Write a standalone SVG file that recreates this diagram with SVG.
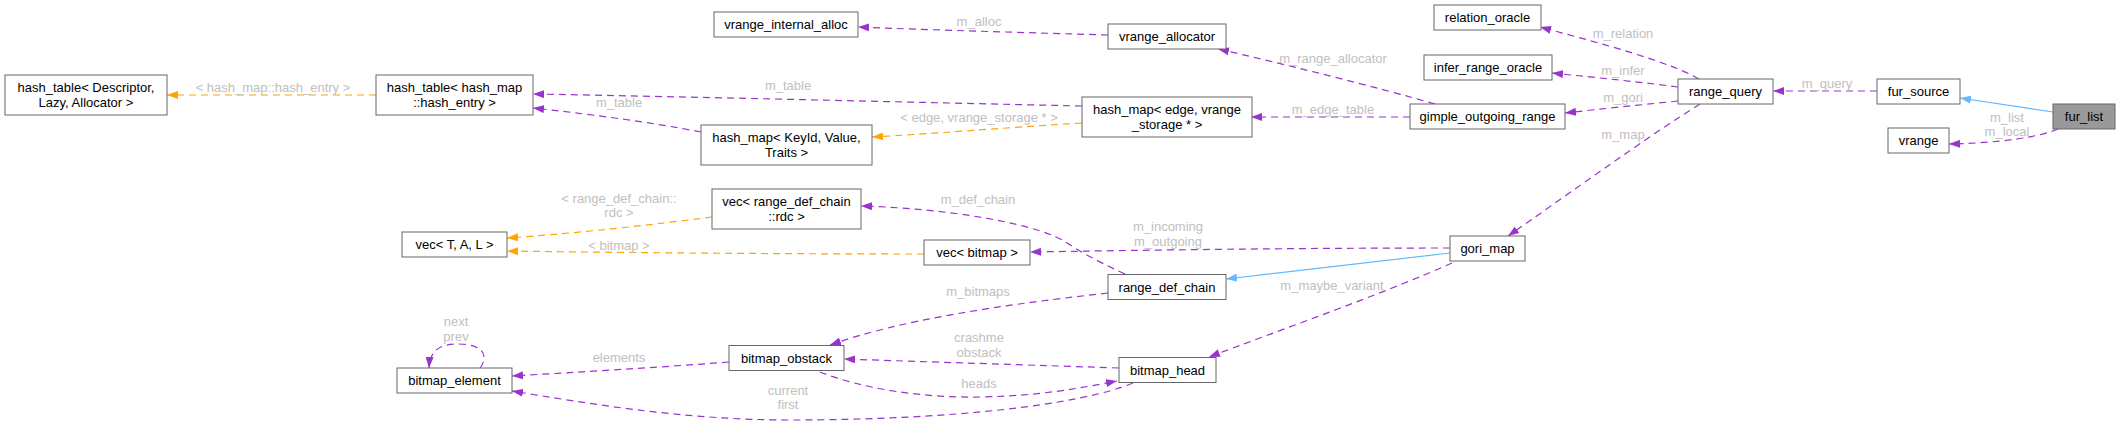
<svg xmlns="http://www.w3.org/2000/svg" width="2120" height="426" viewBox="0 0 2120 426">
<style>
.node rect{fill:#ffffff;stroke:#666666;stroke-width:1}
.node text{font-family:"Liberation Sans",Arial,sans-serif;font-size:13px;fill:#000000;text-anchor:middle}
.e{fill:none;stroke-width:1.2;stroke-dasharray:7,5}
.p{stroke:#9a32cd;marker-end:url(#ap)}
.o{stroke:#ffa500;marker-end:url(#ao)}
.b{fill:none;stroke:#63b8ff;stroke-width:1.2;marker-end:url(#ab)}
.lbl{font-family:"Liberation Sans",Arial,sans-serif;font-size:13px;fill:#c0c0c0;text-anchor:middle}
</style>
<defs>
<marker id="ap" markerUnits="userSpaceOnUse" markerWidth="11" markerHeight="8" refX="11" refY="4" orient="auto"><path d="M0,0 L11,4 L0,8 z" fill="#9a32cd"/></marker>
<marker id="ao" markerUnits="userSpaceOnUse" markerWidth="11" markerHeight="8" refX="11" refY="4" orient="auto"><path d="M0,0 L11,4 L0,8 z" fill="#ffa500"/></marker>
<marker id="ab" markerUnits="userSpaceOnUse" markerWidth="11" markerHeight="8" refX="11" refY="4" orient="auto"><path d="M0,0 L11,4 L0,8 z" fill="#63b8ff"/></marker>
</defs>
<rect width="2120" height="426" fill="#ffffff"/>
<g id="connectors">
<path class="b" d="M2053,112 L1960,98"/>
<path class="e p" d="M2058,129 C2040,137 2000,143 1949,144"/>
<path class="e p" d="M1877,91 L1773,91"/>
<path class="e p" d="M1699,79 C1670,62 1600,43 1540,27"/>
<path class="e p" d="M1678,87 C1640,82 1600,78 1552,73"/>
<path class="e p" d="M1678,101 C1640,105 1600,109 1565,113"/>
<path class="e p" d="M1700,104 C1650,135 1560,200 1508,236"/>
<path class="e p" d="M1435,104 C1380,88 1280,63 1218,49"/>
<path class="e p" d="M1410,117 L1251,117"/>
<path class="e p" d="M1108,35 C1040,33 930,30 858,27"/>
<path class="e p" d="M1082,106 C900,102 700,97 533,94"/>
<path class="e o" d="M1082,123 C1000,128 930,134 872,137"/>
<path class="e p" d="M701,132 C650,122 580,113 533,108"/>
<path class="e o" d="M376,95 L167,95"/>
<path class="e p" d="M1450,248 C1300,248 1150,250 1030,252"/>
<path class="b" d="M1450,253 L1226,279"/>
<path class="e p" d="M1452,263 C1380,295 1280,330 1209,357"/>
<path class="e p" d="M1125,274 C1090,258 1075,248 1062,240 C1030,222 940,208 861,206"/>
<path class="e p" d="M1108,293 C1000,305 900,320 830,345"/>
<path class="e o" d="M712,217 C650,225 580,233 507,238"/>
<path class="e o" d="M924,254 C800,254 650,253 507,251"/>
<path class="e p" d="M1119,368 C1000,364 900,361 844,359"/>
<path class="e p" d="M820,372 C860,388 920,398 980,397 C1040,396 1080,388 1117,381"/>
<path class="e p" d="M1133,383 C1080,405 950,420 790,420 C680,420 580,402 512,391"/>
<path class="e p" d="M729,362 C650,368 580,372 512,376"/>
<path class="e p" d="M480,368 C488,358 486,344 458,344 C440,344 430,350 429,368"/>
<text class="lbl" x="273" y="91.5">&lt; hash_map::hash_entry &gt;</text>
<text class="lbl" x="979" y="25.5">m_alloc</text>
<text class="lbl" x="788" y="89.5">m_table</text>
<text class="lbl" x="619" y="106.5">m_table</text>
<text class="lbl" x="979" y="121.5">&lt; edge, vrange_storage * &gt;</text>
<text class="lbl" x="619" y="202.5">&lt; range_def_chain::</text>
<text class="lbl" x="619" y="216.5">rdc &gt;</text>
<text class="lbl" x="978" y="203.5">m_def_chain</text>
<text class="lbl" x="619" y="249.5">&lt; bitmap &gt;</text>
<text class="lbl" x="1168" y="230.5">m_incoming</text>
<text class="lbl" x="1168" y="245.5">m_outgoing</text>
<text class="lbl" x="978" y="295.5">m_bitmaps</text>
<text class="lbl" x="979" y="341.5">crashme</text>
<text class="lbl" x="979" y="356.5">obstack</text>
<text class="lbl" x="979" y="387.5">heads</text>
<text class="lbl" x="788" y="394.5">current</text>
<text class="lbl" x="788" y="408.5">first</text>
<text class="lbl" x="619" y="361.5">elements</text>
<text class="lbl" x="456" y="325.5">next</text>
<text class="lbl" x="456" y="340.5">prev</text>
<text class="lbl" x="1332" y="289.5">m_maybe_variant</text>
<text class="lbl" x="1333" y="62.5">m_range_allocator</text>
<text class="lbl" x="1333" y="113.5">m_edge_table</text>
<text class="lbl" x="1623" y="37.5">m_relation</text>
<text class="lbl" x="1623" y="74.5">m_infer</text>
<text class="lbl" x="1623" y="101.5">m_gori</text>
<text class="lbl" x="1623" y="138.5">m_map</text>
<text class="lbl" x="1827" y="87.5">m_query</text>
<text class="lbl" x="2007" y="121.5">m_list</text>
<text class="lbl" x="2007" y="135.5">m_local</text>
</g>
<g id="n_fur_list" class="node"><rect x="2053" y="104" width="62" height="25" style="fill:#999999"/><text x="2084" y="121">fur_list</text></g>
<g id="n_fur_source" class="node"><rect x="1877" y="79" width="83" height="25"/><text x="1918.5" y="96">fur_source</text></g>
<g id="n_vrange" class="node"><rect x="1888" y="128" width="61" height="25"/><text x="1918.5" y="145">vrange</text></g>
<g id="n_range_query" class="node"><rect x="1678" y="79" width="95" height="25"/><text x="1725.5" y="96">range_query</text></g>
<g id="n_relation_oracle" class="node"><rect x="1434" y="5" width="107" height="25"/><text x="1487.5" y="22">relation_oracle</text></g>
<g id="n_infer_range_oracle" class="node"><rect x="1424" y="55" width="128" height="25"/><text x="1488" y="72">infer_range_oracle</text></g>
<g id="n_gimple_outgoing_range" class="node"><rect x="1410" y="104" width="155" height="25"/><text x="1487.5" y="121">gimple_outgoing_range</text></g>
<g id="n_gori_map" class="node"><rect x="1450" y="236" width="75" height="25"/><text x="1487.5" y="253">gori_map</text></g>
<g id="n_vrange_allocator" class="node"><rect x="1108" y="24" width="118" height="25"/><text x="1167" y="41">vrange_allocator</text></g>
<g id="n_hash_map_edge" class="node"><rect x="1082" y="97" width="170" height="40"/><text x="1167" y="114">hash_map&lt; edge, vrange</text><text x="1167" y="129">_storage * &gt;</text></g>
<g id="n_vrange_internal_alloc" class="node"><rect x="714" y="12" width="144" height="25"/><text x="786" y="29">vrange_internal_alloc</text></g>
<g id="n_hash_table_hm" class="node"><rect x="376" y="75" width="157" height="40"/><text x="454.5" y="92">hash_table&lt; hash_map</text><text x="454.5" y="107">::hash_entry &gt;</text></g>
<g id="n_hash_table_desc" class="node"><rect x="5" y="75" width="162" height="40"/><text x="86" y="92">hash_table&lt; Descriptor,</text><text x="86" y="107">Lazy, Allocator &gt;</text></g>
<g id="n_hash_map_keyid" class="node"><rect x="701" y="125" width="171" height="40"/><text x="786.5" y="142">hash_map&lt; KeyId, Value,</text><text x="786.5" y="157">Traits &gt;</text></g>
<g id="n_vec_rdc" class="node"><rect x="712" y="189" width="149" height="40"/><text x="786.5" y="206">vec&lt; range_def_chain</text><text x="786.5" y="221">::rdc &gt;</text></g>
<g id="n_vec_tal" class="node"><rect x="402" y="232" width="105" height="25"/><text x="454.5" y="249">vec&lt; T, A, L &gt;</text></g>
<g id="n_vec_bitmap" class="node"><rect x="924" y="240" width="106" height="25"/><text x="977" y="257">vec&lt; bitmap &gt;</text></g>
<g id="n_range_def_chain" class="node"><rect x="1108" y="274.5" width="118" height="25"/><text x="1167" y="291.5">range_def_chain</text></g>
<g id="n_bitmap_obstack" class="node"><rect x="729" y="345.5" width="115" height="25"/><text x="786.5" y="362.5">bitmap_obstack</text></g>
<g id="n_bitmap_head" class="node"><rect x="1119" y="357.5" width="97" height="25"/><text x="1167.5" y="374.5">bitmap_head</text></g>
<g id="n_bitmap_element" class="node"><rect x="397" y="368" width="115" height="25"/><text x="454.5" y="385">bitmap_element</text></g>
</svg>
